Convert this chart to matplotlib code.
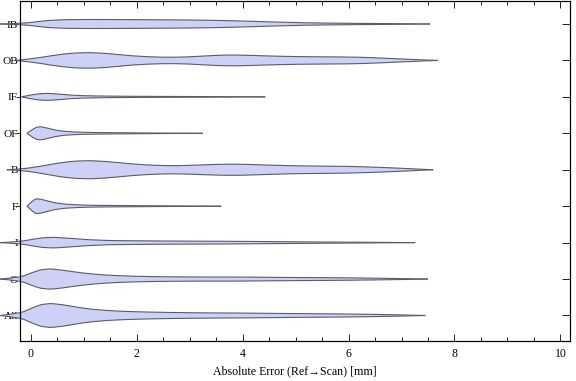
import matplotlib
matplotlib.use("Agg")
import matplotlib.pyplot as plt
import numpy as np
from matplotlib.ticker import MultipleLocator
from matplotlib.path import Path
from matplotlib.patches import PathPatch

# categories from bottom to top
categories = ["All", "O", "I", "F", "B", "OF", "IF", "OB", "IB"]

# Violin profiles: x positions (mm) and relative half-widths (density, arbitrary units)
x_IB = [-0.58, -0.2, 0.0, 0.3, 0.7, 1.5, 2.5, 3.3, 4.0, 4.6, 5.1, 5.6, 6.2, 6.8, 7.54]
w_IB = [0, 0.6, 1.5, 3.5, 4.5, 4.5, 4.2, 3.9, 3.0, 2.0, 1.3, 0.9, 0.6, 0.4, 0]

x_OB = [-0.3, -0.2, 0.2, 0.6, 1.0, 1.4, 1.9, 2.5, 3.0, 3.5, 3.9, 4.4, 5.0, 5.6, 6.2, 6.7, 7.2, 7.69]
w_OB = [0, 0.3, 3.0, 6.5, 8.0, 7.3, 4.5, 3.0, 3.5, 5.2, 5.5, 4.6, 3.8, 3.6, 3.3, 2.2, 1.0, 0]

x_IF = [-0.17, 0.0, 0.24, 0.5, 0.8, 1.2, 2.0, 3.0, 4.43]
w_IF = [0, 2.0, 3.7, 3.0, 1.5, 0.9, 0.5, 0.4, 0]

x_OF = [-0.07, 0.05, 0.15, 0.3, 0.52, 0.8, 1.16, 2.0, 3.25]
w_OF = [0, 4.5, 7.0, 5.5, 2.5, 1.3, 0.8, 0.4, 0]

x_B = [-0.45, -0.2, 0.2, 0.6, 1.0, 1.4, 1.9, 2.4, 2.8, 3.3, 3.8, 4.3, 4.9, 5.4, 6.0, 6.6, 7.1, 7.6]
w_B = [0, 0.5, 3.5, 7.5, 9.3, 8.5, 5.8, 4.2, 4.0, 5.0, 5.8, 5.0, 4.0, 3.7, 3.4, 2.4, 1.2, 0]

x_F = [-0.07, 0.04, 0.12, 0.3, 0.52, 0.9, 1.27, 2.0, 3.6]
w_F = [0, 5.5, 8.0, 5.5, 2.5, 1.2, 0.8, 0.5, 0]

x_I = [-0.58, -0.2, 0.0, 0.33, 0.7, 1.27, 2.0, 2.86, 3.6, 4.6, 5.5, 6.3, 7.26]
w_I = [0, 1.0, 3.0, 5.7, 4.5, 2.2, 1.8, 1.5, 1.4, 1.0, 0.6, 0.4, 0]

x_O = [-0.58, -0.2, 0.0, 0.27, 0.6, 0.97, 1.4, 1.9, 2.6, 3.5, 3.9, 4.75, 5.5, 6.0, 6.9, 7.5]
w_O = [0, 1.5, 6.0, 10.7, 9.0, 6.0, 4.0, 2.8, 2.2, 2.0, 2.1, 1.6, 1.4, 1.2, 0.6, 0]

x_All = [-0.58, -0.2, 0.0, 0.27, 0.6, 0.97, 1.4, 1.9, 2.6, 3.5, 3.9, 4.75, 5.5, 6.0, 6.9, 7.45]
w_All = [0, 2.0, 7.0, 12.5, 11.0, 7.3, 5.0, 3.8, 3.0, 2.5, 2.5, 2.0, 1.7, 1.5, 0.8, 0]

profiles = {
    "All": (x_All, w_All), "O": (x_O, w_O), "I": (x_I, w_I), "F": (x_F, w_F),
    "B": (x_B, w_B), "OF": (x_OF, w_OF), "IF": (x_IF, w_IF), "OB": (x_OB, w_OB),
    "IB": (x_IB, w_IB),
}

x_ticks = [0, 2, 4, 6, 8, 10]
x_label = "Absolute Error (Ref\u2192Scan) [mm]"

WIDTH_SCALE = 1 / 36.44
FILL = "#cdd1f5"
EDGE = "#5a5d68"
FONT = ["Liberation Serif", "DejaVu Serif"]


def smooth_path(px, py):
    """Quadratic-Bezier path through midpoints, using the profile points as controls."""
    verts = [(px[0], py[0])]
    codes = [Path.MOVETO]
    n = len(px)
    for k in range(1, n - 1):
        mx = (px[k] + px[k + 1]) / 2 if k < n - 2 else px[k + 1]
        my = (py[k] + py[k + 1]) / 2 if k < n - 2 else py[k + 1]
        verts += [(px[k], py[k]), (mx, my)]
        codes += [Path.CURVE3, Path.CURVE3]
    if n == 2:
        verts.append((px[1], py[1]))
        codes.append(Path.LINETO)
    return verts, codes


fig = plt.figure(figsize=(5.76, 3.81), dpi=100)
ax = fig.add_axes([20 / 576, 40 / 381, 550 / 576, 340.5 / 381])

for i, cat in enumerate(categories):
    pos = i + 1
    xs, ws = profiles[cat]
    xs = np.array(xs, dtype=float)
    ws = np.array(ws, dtype=float) * WIDTH_SCALE
    vt, ct = smooth_path(xs, pos + ws)
    vb, cb = smooth_path(xs[::-1], (pos - ws)[::-1])
    verts = vt + vb[1:] + [vt[0]]
    codes = ct + cb[1:] + [Path.CLOSEPOLY]
    ax.add_patch(PathPatch(Path(verts, codes), facecolor=FILL, edgecolor="none",
                           clip_on=False, zorder=2))
    ax.add_patch(PathPatch(Path(vt, ct), facecolor="none", edgecolor=EDGE, lw=0.8,
                           clip_on=False, zorder=3))
    ax.add_patch(PathPatch(Path(vb, cb), facecolor="none", edgecolor=EDGE, lw=0.8,
                           clip_on=False, zorder=3))

ax.set_xlim(-0.2, 10.18)
ax.set_ylim(0.30, 9.645)

ax.set_xticks(x_ticks)
ax.set_xticklabels([str(t) for t in x_ticks], family=FONT, fontsize=8.5)
ax.xaxis.set_minor_locator(MultipleLocator(0.5))
ax.tick_params(axis="x", which="major", direction="in", length=5, width=0.6,
               top=True, pad=5, colors="black")
ax.tick_params(axis="x", which="minor", direction="in", length=3, width=0.6, top=True)

ax.set_yticks(range(1, len(categories) + 1))
ax.set_yticklabels(categories, family=FONT, fontsize=8.2)
ax.tick_params(axis="y", which="major", direction="out", length=3, width=0.6, pad=-1.5)

ax2 = ax.twinx()
ax2.set_ylim(ax.get_ylim())
ax2.set_yticks(range(1, len(categories) + 1))
ax2.set_yticklabels([])
ax2.tick_params(axis="y", direction="in", length=6, width=0.6)

for a in (ax, ax2):
    for s in a.spines.values():
        s.set_linewidth(0.8)
        s.set_color("black")

ax.set_xlabel(x_label, family=FONT, fontsize=8.6, labelpad=4)

fig.savefig("out.png", dpi=100)
